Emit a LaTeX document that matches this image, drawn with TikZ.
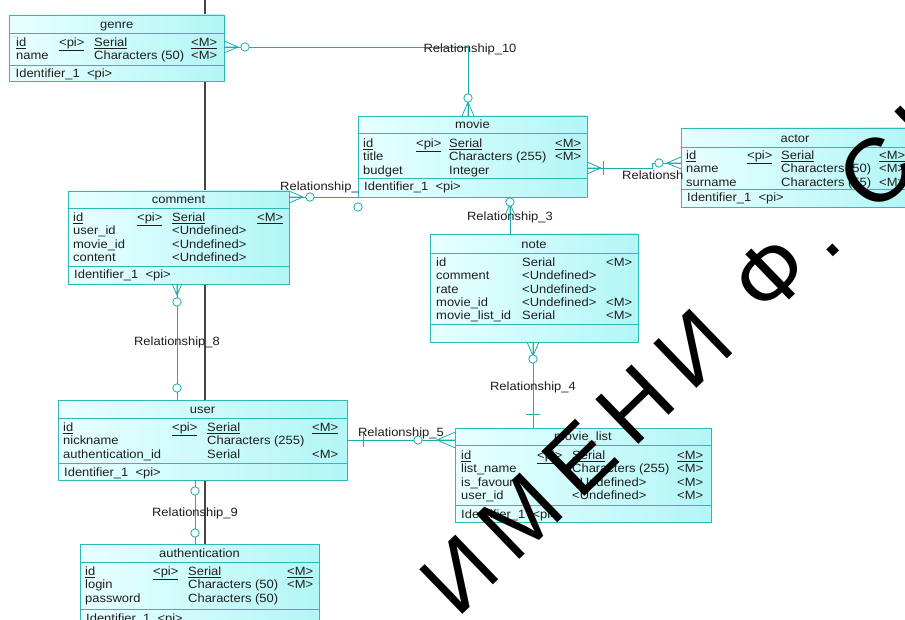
\documentclass[tikz,border=0pt]{standalone}
\usepackage{fontspec}
\setmainfont{Liberation Sans}[FakeStretch=1.08]
\newfontfamily\stampfont{Liberation Sans}[LetterSpace=17]
\usetikzlibrary{calc}

\definecolor{relteal}{RGB}{25,175,175}
\definecolor{entborder}{RGB}{45,185,185}
\definecolor{entlight}{RGB}{232,255,255}
\definecolor{entdark}{RGB}{178,246,246}
\definecolor{enttext}{RGB}{30,30,30}
\definecolor{pageline}{RGB}{70,70,70}

\tikzset{
  entity/.style={draw=entborder, line width=0.8pt, left color=entlight, right color=entdark,
    anchor=north west, inner sep=0pt, outer sep=0pt},
  entline/.style={draw=entborder, line width=0.8pt},
  attr/.style={anchor=base west, inner sep=0pt, text=enttext},
  ettitle/.style={anchor=base, inner sep=0pt, text=enttext},
  rel/.style={draw=relteal, line width=0.8pt},
  rellabel/.style={inner sep=0pt, text=enttext},
  crow/.pic={\draw[rel] (0,-6) -- (14,0) -- (0,6) (0,0) -- (14,0);},
  ring/.pic={\draw[rel, fill=white] (0,0) circle[radius=4.2];},
  bar/.pic={\draw[rel] (0,-7) -- (0,7);},
  stamp/.style={text=black, font=\stampfont\fontsize{90}{90}\selectfont, rotate=44, inner sep=0pt},
}

% name, left, top, right, title line, identifier line, bottom, title, identifier
\newcommand\entity[9]{%
  \node[entity, minimum width={(#4-#2)*1pt}, minimum height={(#7-#3)*1pt}] (#1) at (#2,#3) {};
  \draw[entline] (#2,#5) -- (#4,#5) (#2,#6) -- (#4,#6);
  \node[ettitle] (#1-title) at ({(#2+#4)/2},#5-4.5) {#8};
  \node[attr] (#1-ident) at (#2+6,#6+13) {#9};
}
% name, first baseline, x of name, key, type, mandatory, rows
\newcommand\attrs[7]{%
  \foreach \f/\k/\d/\m [count=\i] in {#7} {
    \node[attr] (#1-n\i) at (#3,#2+13.3*\i-13.3) {\f};
    \node[attr] (#1-k\i) at (#4,#2+13.3*\i-13.3) {\k};
    \node[attr] (#1-d\i) at (#5,#2+13.3*\i-13.3) {\d};
    \node[attr] (#1-m\i) at (#6,#2+13.3*\i-13.3) {\m};
  }
}

\begin{document}
\begin{tikzpicture}[x=1pt, y=-1pt, font=\fontsize{12}{13}\selectfont]
  \useasboundingbox (0,0) rectangle (905,620);
  \clip (0,0) rectangle (905,620);
  \fill[white] (0,0) rectangle (905,620);

  \draw[pageline, line width=1.2pt] (205,0) -- (205,544);

  % tables
  \entity{genre}{9.5}{15}{224}{33}{65}{81.5}{genre}{Identifier\_1\ \ <pi>}
  \attrs{genre}{46.5}{16}{59}{94}{191}{%
    \underline{id}/\underline{<pi>}/\underline{Serial}/\underline{<M>},
    name/{}/Characters (50)/<M>}

  \entity{comment}{68}{191}{289}{208}{266}{284}{comment}{Identifier\_1\ \ <pi>}
  \attrs{comment}{221.5}{73}{137}{172}{257}{%
    \underline{id}/\underline{<pi>}/\underline{Serial}/\underline{<M>},
    user\_id/{}/<Undefined>/{},
    movie\_id/{}/<Undefined>/{},
    content/{}/<Undefined>/{}}

  \entity{user}{58}{400}{347}{418}{463}{480}{user}{Identifier\_1\ \ <pi>}
  \attrs{user}{431.5}{63}{172}{207}{312}{%
    \underline{id}/\underline{<pi>}/\underline{Serial}/\underline{<M>},
    nickname/{}/Characters (255)/{},
    authentication\_id/{}/Serial/<M>}

  \entity{auth}{80}{544}{319}{562}{609}{640}{authentication}{Identifier\_1\ \ <pi>}
  \attrs{auth}{575.5}{85}{153}{188}{287}{%
    \underline{id}/\underline{<pi>}/\underline{Serial}/\underline{<M>},
    login/{}/Characters (50)/<M>,
    password/{}/Characters (50)/{}}

  \entity{note}{430}{234}{638}{253}{324}{342}{note}{}
  \attrs{note}{266.5}{436}{480}{522}{606}{%
    id/{}/Serial/<M>,
    comment/{}/<Undefined>/{},
    rate/{}/<Undefined>/{},
    movie\_id/{}/<Undefined>/<M>,
    movie\_list\_id/{}/Serial/<M>}

  \entity{movielist}{455}{428}{711}{445}{505}{522}{movie\_list}{Identifier\_1\ \ <pi>}
  \attrs{movielist}{459.5}{461}{537}{572}{677}{%
    \underline{id}/\underline{<pi>}/\underline{Serial}/\underline{<M>},
    list\_name/{}/Characters (255)/<M>,
    is\_favourite/{}/<Undefined>/<M>,
    user\_id/{}/<Undefined>/<M>}

  \entity{movie}{358}{116}{587}{133}{178}{197}{movie}{Identifier\_1\ \ <pi>}
  \attrs{movie}{147.5}{363}{416}{449}{555}{%
    \underline{id}/\underline{<pi>}/\underline{Serial}/\underline{<M>},
    title/{}/Characters (255)/<M>,
    budget/{}/Integer/{}}

  \entity{actor}{681}{128}{909}{147}{189}{207}{actor}{Identifier\_1\ \ <pi>}
  \attrs{actor}{159.5}{686}{747}{781}{879}{%
    \underline{id}/\underline{<pi>}/\underline{Serial}/\underline{<M>},
    name/{}/Characters (50)/<M>,
    surname/{}/Characters (55)/<M>}

  % relationships
  \coordinate (r10g) at (genre.east |- 0,47);
  \coordinate (r10m) at ($(movie.north west)+(110,0)$);
  \draw[rel] (r10g) -| (r10m);
  \pic at (r10g) {crow};
  \pic at ($(r10g)+(21,0)$) {ring};
  \pic[rotate=90] at (r10m) {crow};
  \pic at ($(r10m)+(0,-18)$) {ring};

  \coordinate (r1c) at (comment.east |- 0,197);
  \draw[rel] (r1c) -- (movie.south west);
  \pic at (r1c) {crow};
  \pic at ($(r1c)+(21,0)$) {ring};
  \pic at ($(movie.south west)+(0,10)$) {ring};

  \coordinate (r2m) at (movie.east |- 0,168);
  \coordinate (r2a) at (actor.west |- 0,163);
  \draw[rel] (r2m) -- ++(65,0) |- (r2a);
  \pic at (r2m) {crow};
  \pic at ($(r2m)+(16,0)$) {bar};
  \pic[rotate=180] at (r2a) {crow};
  \pic at ($(r2a)+(-22,0)$) {ring};

  \coordinate (r3m) at ($(movie.south west)+(152,0)$);
  \draw[rel] (r3m) -- (r3m |- note.north);
  \pic[rotate=90, scale=0.8] at ($(r3m)+(0,18)$) {crow};
  \pic at ($(r3m)+(0,5)$) {ring};

  \coordinate (r4n) at ($(note.south west)+(103,0)$);
  \draw[rel] (r4n) -- (r4n |- movielist.north);
  \pic[rotate=-90] at (r4n) {crow};
  \pic at ($(r4n)+(0,17)$) {ring};
  \pic[rotate=90] at ($(r4n |- movielist.north)+(0,-14)$) {bar};

  \coordinate (r5u) at (user.east |- 0,440);
  \coordinate (r5l) at (movielist.west |- 0,440);
  \draw[rel] (r5u) -- (r5l);
  \pic at ($(r5u)+(16,0)$) {bar};
  \pic[rotate=180, scale=1.3] at (r5l) {crow};
  \pic at ($(r5l)+(-37,0)$) {ring};

  \coordinate (r8c) at ($(comment.south west)+(109,0)$);
  \draw[rel] (r8c) -- (r8c |- user.north);
  \pic[rotate=-90, scale=0.8] at (r8c) {crow};
  \pic at ($(r8c)+(0,18)$) {ring};
  \pic at ($(r8c |- user.north)+(0,-12)$) {ring};

  \coordinate (r9u) at ($(user.south west)+(137,0)$);
  \draw[rel] (r9u) -- (r9u |- auth.north);
  \pic at ($(r9u)+(0,11)$) {ring};
  \pic at ($(r9u |- auth.north)+(0,-11)$) {ring};

  % labels
  \node[rellabel] (lab10) at (470,49) {Relationship\_10};
  \node[rellabel, anchor=west] (lab1) at (280,187) {Relationship\_};
  \node[rellabel, anchor=west] (lab2) at (622,175) {Relationsh};
  \node[rellabel] (lab3) at (510,217) {Relationship\_3};
  \node[rellabel] (lab4) at (533,387) {Relationship\_4};
  \node[rellabel] (lab5) at (401,433) {Relationship\_5};
  \node[rellabel] (lab8) at (177,342) {Relationship\_8};
  \node[rellabel] (lab9) at (195,513) {Relationship\_9};

  \node[stamp] (stamp) at (692,350) {ИМЕНИ Ф. СК};
\end{tikzpicture}
\end{document}
